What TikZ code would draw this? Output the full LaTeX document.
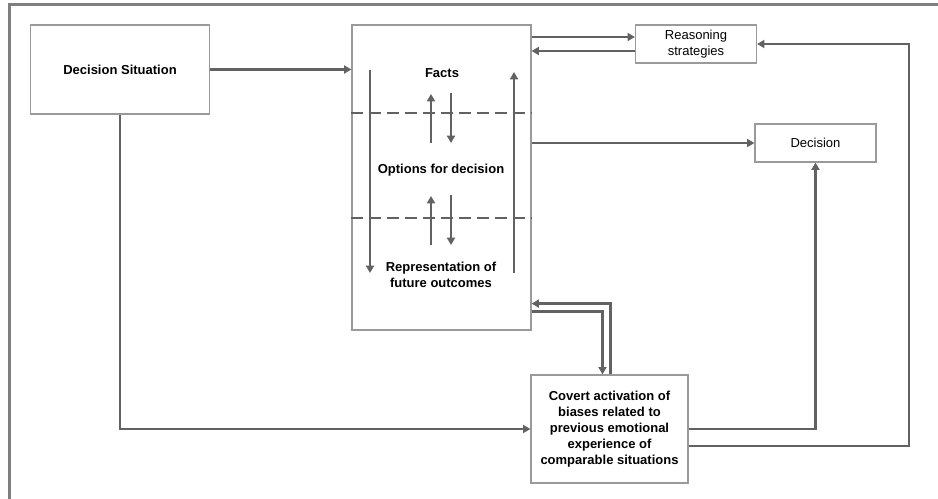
\documentclass[tikz,border=0pt]{standalone}
\usepackage{fontspec}
\setmainfont{Liberation Sans}
\usetikzlibrary{calc,arrows.meta}
\definecolor{linegray}{HTML}{626262}
\definecolor{boxgray}{HTML}{9A9A9A}
\definecolor{framegray}{HTML}{7F7F7F}
\tikzset{
	box/.style={draw=boxgray, line width=0.9pt, fill=white, inner sep=0pt, align=center, font=\fontsize{9.75}{12}\selectfont},
	bbox/.style={box, font=\fontsize{9.75}{12}\selectfont\bfseries},
	lbl/.style={inner sep=0pt, align=center, font=\fontsize{9.75}{12}\selectfont\bfseries},
	flow/.style={draw=linegray, line width=2.2pt, -{Triangle[length=5.5pt,width=6pt]}},
	sepline/.style={draw=linegray, line width=2.2pt, dash pattern=on 9pt off 4.5pt},
}

\begin{document}
\begin{tikzpicture}[x=0.75pt,y=-0.75pt]
			%%%%% START %%%%%
			\useasboundingbox (0,0) rectangle (938,499);
			\draw[framegray, line width=2.2pt] (938,4.7) -- (9.5,4.7) -- (9.5,499);
			
			\node[bbox, minimum width=179*0.75pt, minimum height=89*0.75pt] (sit) at (120,69.5) {Decision Situation};
			\node[box, minimum width=179*0.75pt, minimum height=305*0.75pt] (mid) at (441.5,177.5) {};
			\node[box, minimum width=121*0.75pt, minimum height=38*0.75pt] (reas) at (696,44) {Reasoning\\strategies};
			\node[box, minimum width=121*0.75pt, minimum height=38*0.75pt] (dec) at (815.5,143) {Decision};
			\node[bbox, minimum width=157*0.75pt, minimum height=108*0.75pt] (cov) at (609.5,429) {Covert activation of\\biases related to\\previous emotional\\experience of\\comparable situations};
			
			\node[lbl] (facts) at (442,73) {Facts};
			\node[lbl] (opts) at (441,170) {Options for decision};
			\node[lbl] (repr) at (441,275) {Representation of\\future outcomes};
			
			% inside the middle box
			\draw[sepline] (mid.west |- 0,113) -- (mid.east |- 0,113);
			\draw[sepline] (mid.west |- 0,218) -- (mid.east |- 0,218);
			\draw[flow] (370,70) -- (370,273);
			\draw[flow] (514,273) -- (514,72);
			\foreach \ya/\yb in {94/143,196/245}{
				\draw[flow] (431,\yb) -- (431,\ya);
				\draw[flow] (451,\ya-1) -- (451,\yb);
			}
			
			\coordinate (rt) at (909,0);
			
			\draw[flow] (sit.east) -- (sit.east -| mid.west);
			\draw[flow] ($(reas.west -| mid.east)+(0,-7)$) -- ($(reas.west)+(0,-7)$);
			\draw[flow] ($(reas.west)+(0,7)$) -- ($(reas.west -| mid.east)+(0,7)$);
			\draw[flow] (dec.west -| mid.east) -- (dec.west);
			\draw[flow] ($(cov.north)+(1,0)$) |- ($(mid.south east)+(0,-27)$);
			\draw[flow] ($(mid.south east)+(0,-19)$) -| ($(cov.north)+(-7,0)$);
			\draw[flow] (sit.south) |- (cov.west);
			\draw[flow] (cov.east) -| (dec.south);
			\draw[flow] ($(cov.east)+(0,17)$) -| (rt |- reas.east) -- (reas.east);
			
			%%%%% END %%%%%
\end{tikzpicture}
\end{document}
